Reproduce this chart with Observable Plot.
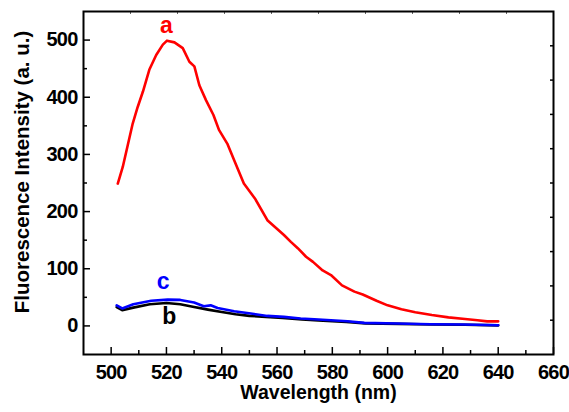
<!DOCTYPE html>
<html><head><meta charset="utf-8">
<script src="https://cdn.jsdelivr.net/npm/d3@7"></script>
<script src="https://cdn.jsdelivr.net/npm/@observablehq/plot@0.6"></script>
<style>
body{margin:0;background:#fff}
svg{font-family:"Liberation Sans",Arial,sans-serif}
g[aria-label="x-axis tick label"] text, g[aria-label="y-axis tick label"] text{letter-spacing:-0.8px}
</style>
</head><body><div id="chart"></div>
<script>
// Series a (red)
const aWavelength = [502.4, 504.2, 506, 507.8, 509.6, 511.5, 513.8, 516.3, 518.7, 520.2, 522.9, 525.9, 528.3, 530.1, 531.9, 534.3, 537, 539, 542, 544.5, 548, 552, 556.5, 562.5, 565, 567.5, 570.5, 573, 576.5, 579.5, 583.5, 588, 591, 596, 600, 605, 610, 616, 622, 628, 632.5, 636, 640];
const aIntensity  = [249, 278, 316, 354, 383, 410, 448, 474, 492, 499, 496, 486, 462, 454, 421, 395, 369, 343, 319, 290, 249, 223, 185, 159, 147, 136, 121, 112, 97, 89, 71, 60, 55, 44, 36, 29, 24, 19, 15, 12, 10, 8, 8];
// Series b (black)
const bWavelength = [502, 504, 508, 514, 520, 525, 530, 535, 540, 545, 550, 556, 562, 569, 575, 585, 592, 604, 616, 628, 640];
const bIntensity  = [33, 27.5, 32, 38, 40, 38, 33, 28.5, 24.5, 20.5, 17.5, 15.8, 13.8, 11.5, 9.5, 7, 4.5, 3.5, 2.5, 2, 1];
// Series c (blue)
const cWavelength = [502, 504, 508, 514.5, 520.5, 525, 530, 533.5, 536, 538.5, 544.5, 550.5, 556.5, 562.5, 568.5, 573.5, 585.5, 591.5, 603.5, 615.5, 627.5, 640];
const cIntensity  = [36, 30.5, 38, 44, 46, 45.5, 41, 34.5, 36, 31.5, 25.7, 21.7, 17.5, 15.8, 13, 11.7, 8.2, 5.3, 4.2, 3, 2.4, 1.2];

// Curve labels
const labelText = ["a", "b", "c"];
const labelX = [520, 521, 518.8];
const labelY = [525, 16.5, 78];
const labelColor = ["#ff0000", "#000000", "#0000ff"];

// Ticks
const xMajorTicks = [500, 520, 540, 560, 580, 600, 620, 640, 660];
const xMinorTicks = [510, 530, 550, 570, 590, 610, 630, 650];
const yMajorTicks = [0, 100, 200, 300, 400, 500];
const yMinorTicks = [50, 150, 250, 350, 450];
const topTicks = [507, 524, 541, 558, 575, 592, 609, 626, 643];
const rightTicks = [10, 70, 130, 190, 250, 310, 370, 430, 490];

const xTitle = "Wavelength (nm)";
const yTitle = "Fluorescence Intensity (a. u.)";

const W = 569, H = 412, mL = 83, mR = 16, mT = 11, mB = 58;
const iW = W - mL - mR, iH = H - mT - mB;

const seriesA = aWavelength.map((w, i) => ({w, v: aIntensity[i]}));
const seriesB = bWavelength.map((w, i) => ({w, v: bIntensity[i]}));
const seriesC = cWavelength.map((w, i) => ({w, v: cIntensity[i]}));
const labels = labelText.map((t, i) => ({t, x: labelX[i], y: labelY[i], c: labelColor[i]}));

const font = "'Liberation Sans', Arial, sans-serif";
const chart = Plot.plot({
  width: W, height: H,
  marginLeft: mL, marginRight: mR, marginTop: mT, marginBottom: mB,
  style: {fontFamily: font, background: "#fff", color: "#000"},
  x: {domain: [490, 660]},
  y: {domain: [-50, 550]},
  marks: [
    Plot.axisX(xMajorTicks, {tickSize: 0, tickPadding: 10, fontSize: 20, fontWeight: "bold", label: null}),
    Plot.axisY(yMajorTicks, {tickSize: 0, tickPadding: 6, fontSize: 20, fontWeight: "bold", label: null}),
    Plot.ruleX(xMajorTicks, {x: d => d, insetTop: iH - 7, strokeWidth: 1.5}),
    Plot.ruleX(xMinorTicks, {x: d => d, insetTop: iH - 4, strokeWidth: 1.5}),
    Plot.ruleY(yMajorTicks, {y: d => d, insetRight: iW - 7, strokeWidth: 1.5}),
    Plot.ruleY(yMinorTicks, {y: d => d, insetRight: iW - 4, strokeWidth: 1.5}),
    Plot.ruleX(topTicks, {x: d => d, insetBottom: iH - 3, strokeWidth: 1, stroke: "#666"}),
    Plot.ruleY(rightTicks, {y: d => d, insetLeft: iW - 3, strokeWidth: 1.5}),
    Plot.lineY(seriesB, {x: "w", y: "v", stroke: "#000", strokeWidth: 2.6}),
    Plot.lineY(seriesC, {x: "w", y: "v", stroke: "#0000ff", strokeWidth: 2.6}),
    Plot.lineY(seriesA, {x: "w", y: "v", stroke: "#ff0000", strokeWidth: 2.6}),
    Plot.text(labels, {x: "x", y: "y", text: "t", fill: "c", fontSize: 23, fontWeight: "bold"}),
    Plot.frame({strokeWidth: 2}),
    Plot.text([xTitle], {frameAnchor: "bottom", textAnchor: "middle", dy: 44, fontSize: 19.5, fontWeight: "bold"}),
    Plot.text([yTitle], {frameAnchor: "left", textAnchor: "middle", rotate: -90, dx: -61, dy: -11, fontSize: 20.5, fontWeight: "bold"})
  ]
});
document.getElementById("chart").appendChild(chart);
</script>
</body></html>
